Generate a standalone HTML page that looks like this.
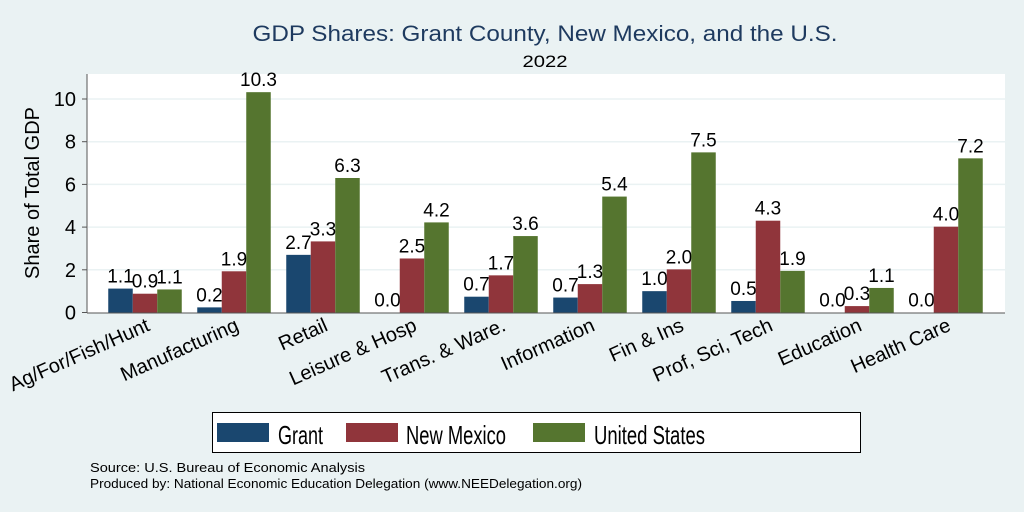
<!DOCTYPE html>
<html><head><meta charset="utf-8"><style>
body{margin:0;background:#eaf2f3;}
svg{display:block;font-family:"Liberation Sans",sans-serif;}
</style></head><body>
<svg id="chart" width="1024" height="512" viewBox="0 0 1024 512">
<rect x="0" y="0" width="1024" height="512" fill="#eaf2f3"/>
<text x="545" y="41" text-anchor="middle" font-size="22" textLength="585" lengthAdjust="spacingAndGlyphs" fill="#1e3a5f">GDP Shares: Grant County, New Mexico, and the U.S.</text>
<text x="545" y="67" text-anchor="middle" font-size="17" textLength="45" lengthAdjust="spacingAndGlyphs" fill="#000">2022</text>
<rect x="87" y="74" width="918" height="239" fill="#fff"/>
<g id="grid"></g>
<g id="bars"></g>
<line x1="87" y1="74" x2="87" y2="313" stroke="#555" stroke-width="1"/>
<line x1="87" y1="313" x2="1005" y2="313" stroke="#555" stroke-width="1"/>
<text transform="translate(39,193) rotate(-90)" text-anchor="middle" font-size="20">Share of Total GDP</text>
<g>
<rect x="212.5" y="412.5" width="648" height="40" fill="#fff" stroke="#000" stroke-width="1"/>
<rect x="217" y="423" width="52" height="19" fill="#1a476f"/>
<text x="278" y="444" font-size="26" textLength="45" lengthAdjust="spacingAndGlyphs">Grant</text>
<rect x="346" y="423" width="52" height="19" fill="#90353b"/>
<text x="406" y="444" font-size="26" textLength="100" lengthAdjust="spacingAndGlyphs">New Mexico</text>
<rect x="533" y="423" width="52" height="19" fill="#55752f"/>
<text x="594" y="444" font-size="26" textLength="111" lengthAdjust="spacingAndGlyphs">United States</text>
</g>
<text x="90" y="472" font-size="13" textLength="275" lengthAdjust="spacingAndGlyphs">Source: U.S. Bureau of Economic Analysis</text>
<text x="90" y="488" font-size="13" textLength="492" lengthAdjust="spacingAndGlyphs">Produced by: National Economic Education Delegation (www.NEEDelegation.org)</text>
</svg>
<script>
const categories=["Ag/For/Fish/Hunt","Manufacturing","Retail","Leisure & Hosp","Trans. & Ware.","Information","Fin & Ins","Prof, Sci, Tech","Education","Health Care"];
const grantValues=[1.12,0.24,2.7,0.0,0.74,0.7,1.0,0.54,0.0,0.0];
const nmValues=[0.88,1.93,3.33,2.53,1.74,1.33,2.02,4.3,0.3,4.02];
const usValues=[1.08,10.32,6.3,4.22,3.58,5.43,7.5,1.95,1.15,7.22];
const seriesNames=["grant","new-mexico","united-states"];
const yTicks=[0,2,4,6,8,10];
const NS="http://www.w3.org/2000/svg";
const X0=145,STEP=89,BW=24.5;
const Y0=312.5,PPU=21.35;
function xCenter(i){return X0+i*STEP;}
function yScale(v){return Y0-v*PPU;}
const colors=["#1a476f","#90353b","#55752f"];
const grid=document.getElementById('grid');
const bars=document.getElementById('bars');
const svg=document.getElementById('chart');
yTicks.forEach(t=>{
  const y=yScale(t);
  if(t>0){
    const l=document.createElementNS(NS,'line');
    l.setAttribute('x1',88);l.setAttribute('x2',1005);l.setAttribute('y1',y);l.setAttribute('y2',y);
    l.setAttribute('stroke','#eaf2f3');l.setAttribute('stroke-width','1.5');
    
    
    grid.appendChild(l);
  }
  const tk=document.createElementNS(NS,'line');
  tk.setAttribute('x1',82);tk.setAttribute('x2',87);tk.setAttribute('y1',y);tk.setAttribute('y2',y);
  tk.setAttribute('stroke','#555');
  
  
  svg.appendChild(tk);
  const tx=document.createElementNS(NS,'text');
  tx.setAttribute('x',76);tx.setAttribute('y',y+7);tx.setAttribute('text-anchor','end');tx.setAttribute('font-size','20');
  tx.textContent=t;
  
  
  svg.appendChild(tx);
});
const series=[grantValues,nmValues,usValues];
categories.forEach((c,i)=>{
  series.forEach((vals,s)=>{
    const v=vals[i];
    const x=xCenter(i)+(s-1)*BW-BW/2;
    const r=document.createElementNS(NS,'rect');
    r.setAttribute('x',x);r.setAttribute('y',yScale(v));r.setAttribute('width',BW);r.setAttribute('height',Math.max(0,Y0-yScale(v)));
    r.setAttribute('fill',colors[s]);
    
    
    bars.appendChild(r);
    const t=document.createElementNS(NS,'text');
    t.setAttribute('x',x+BW/2);t.setAttribute('y',yScale(v)-6);t.setAttribute('text-anchor','middle');t.setAttribute('font-size','19');
    t.textContent=v.toFixed(1);
    
    
    bars.appendChild(t);
  });
  const lb=document.createElementNS(NS,'text');
  const cx=xCenter(i)+6;
  lb.setAttribute('transform','translate('+cx+',330) rotate(-24)');
  lb.setAttribute('text-anchor','end');lb.setAttribute('font-size','20');
  lb.textContent=c;
  
  
  svg.appendChild(lb);
});
</script>
</body></html>
